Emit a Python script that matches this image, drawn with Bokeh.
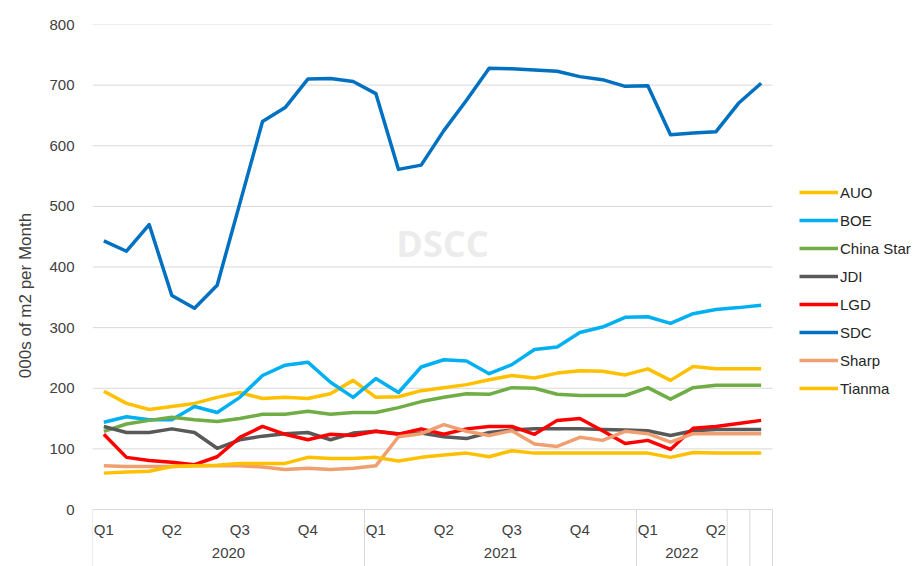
from bokeh.plotting import figure
from bokeh.models import Range1d, FixedTicker, Legend, LegendItem, Label
from bokeh.core.properties import value
from bokeh.embed import file_html
from bokeh.resources import INLINE

# ---- data -------------------------------------------------------------
months = [f"{y}-{m:02d}" for y in (2020, 2021, 2022) for m in range(1, 13)][:30]
quarter_names = ["Q1", "Q2", "Q3", "Q4"]
year_labels = ["2020", "2021", "2022"]
y_ticks = list(range(0, 801, 100))

auo = [195, 175, 165, 170, 175, 185, 193, 183, 185, 183, 191, 213, 185, 186, 196,
       201, 206, 214, 221, 217, 225, 229, 228, 222, 232, 213, 236, 232, 232, 232]
boe = [144, 153, 148, 148, 170, 160, 185, 221, 238, 243, 210, 185, 216, 193, 235,
       247, 245, 224, 239, 264, 268, 292, 301, 317, 318, 307, 323, 330, 333, 337]
china_star = [129, 141, 147, 152, 148, 145, 150, 157, 157, 162, 157, 160, 160, 168, 178,
              185, 191, 190, 201, 200, 190, 188, 188, 188, 201, 182, 201, 205, 205, 205]
jdi = [137, 127, 127, 133, 127, 101, 115, 121, 125, 127, 115, 126, 129, 125, 126,
       120, 117, 127, 131, 133, 133, 133, 132, 131, 130, 122, 130, 132, 132, 132]
lgd = [124, 86, 81, 78, 74, 87, 119, 137, 124, 115, 124, 122, 129, 124, 133,
       124, 133, 137, 137, 124, 147, 150, 130, 109, 114, 99, 134, 137, 142, 147]
sdc = [443, 426, 470, 353, 332, 370, 505, 640, 663, 710, 711, 706, 686, 561, 568,
       625, 675, 728, 727, 725, 723, 714, 709, 698, 699, 618, 621, 623, 670, 703]
sharp = [72, 71, 71, 71, 72, 72, 72, 70, 66, 68, 66, 68, 72, 120, 125,
         140, 129, 122, 130, 108, 104, 119, 114, 129, 125, 111, 125, 125, 125, 125]
tianma = [60, 62, 63, 71, 72, 73, 76, 76, 76, 86, 84, 84, 86, 80, 86,
          90, 93, 87, 97, 93, 93, 93, 93, 93, 93, 86, 94, 93, 93, 93]

series_names = ["AUO", "BOE", "China Star", "JDI", "LGD", "SDC", "Sharp", "Tianma"]
series_values = [auo, boe, china_star, jdi, lgd, sdc, sharp, tianma]
series_colors = ["#FFC000", "#00B0F0", "#70AD47", "#595959", "#FF0000", "#0070C0",
                 "#F0A070", "#FFC000"]

x = list(range(len(months)))
FONT = "Liberation Sans"
GRID = "#D9D9D9"
TXT = "#404040"

W, H = 919, 566
LEFT, TOP = 92, 24
px_per_month = 680 / 30.0
px_per_unit = 485 / 800.0
x_end = -0.5 + (W - LEFT) / px_per_month
y_start = -(H - TOP - 485) / px_per_unit

p = figure(width=W, height=H, output_backend="svg", toolbar_location=None,
           x_range=Range1d(-0.5, x_end), y_range=Range1d(y_start, 800),
           x_axis_type=None, min_border_left=LEFT, min_border_right=0,
           min_border_top=TOP, min_border_bottom=0)
p.outline_line_color = None
p.background_fill_color = "white"

# y axis
p.yaxis.ticker = FixedTicker(ticks=y_ticks)
p.yaxis.axis_line_color = None
p.yaxis.major_tick_line_color = None
p.yaxis.minor_tick_line_color = None
p.yaxis.major_label_text_font = FONT
p.yaxis.major_label_text_font_size = "15px"
p.yaxis.major_label_text_color = TXT
p.yaxis.major_label_standoff = 12
p.yaxis.axis_label = "000s of m2 per Month"
p.yaxis.axis_label_text_font = FONT
p.yaxis.axis_label_text_font_size = "17px"
p.yaxis.axis_label_text_font_style = "normal"
p.yaxis.axis_label_text_color = TXT
p.yaxis.axis_label_standoff = 11
p.ygrid.grid_line_color = None

x_left, x_right = -0.5, len(months) - 0.5

# horizontal gridlines (incl. category axis line at 0)
p.segment(x0=[x_left] * len(y_ticks), y0=y_ticks, x1=[x_right] * len(y_ticks), y1=y_ticks,
          line_color=GRID, line_width=1)

# category axis separators
sep = [-0.5, 11.5, 23.5, 27.5, 28.5, 29.5]
p.segment(x0=sep, y0=[0] * len(sep), x1=sep, y1=[y_start] * len(sep),
          line_color=GRID, line_width=1)

# quarter labels
q_idx = [i for i, m in enumerate(months) if int(m[5:]) in (1, 4, 7, 10)]
q_txt = [quarter_names[(int(months[i][5:]) - 1) // 3] for i in q_idx]
p.text(x=q_idx, y=[-33] * len(q_idx), text=q_txt, text_font=value(FONT),
       text_font_size=value("15px"), text_color=TXT, text_align="center",
       text_baseline="middle")

# year labels
year_pos = [5.5, 17.5, 25.5]
p.text(x=year_pos, y=[-72] * len(year_pos), text=year_labels, text_font=value(FONT),
       text_font_size=value("15px"), text_color=TXT, text_align="center",
       text_baseline="middle")

# watermark
wm = Label(x=12.9, y=439, text="DSCC", text_font="Open Sans", text_font_style="bold",
           text_font_size="36px", text_color="#ECECEC", text_baseline="middle",
           text_align="left", level="underlay")
p.add_layout(wm)

items = []
for name, vals, col in zip(series_names, series_values, series_colors):
    r = p.line(x, vals, line_color=col, line_width=3.5, line_join="round")
    items.append(LegendItem(label=name, renderers=[r]))

legend = Legend(items=items, location=(707, 168), orientation="vertical")
legend.border_line_color = None
legend.background_fill_alpha = 0
legend.padding = 0
legend.margin = 0
legend.glyph_width = 39
legend.glyph_height = 20
legend.label_height = 20
legend.spacing = 8
legend.label_standoff = 2
legend.label_text_font = FONT
legend.label_text_font_size = "15px"
legend.label_text_color = "#262626"
p.add_layout(legend, "center")

open("out.html", "w").write(file_html(p, INLINE))
